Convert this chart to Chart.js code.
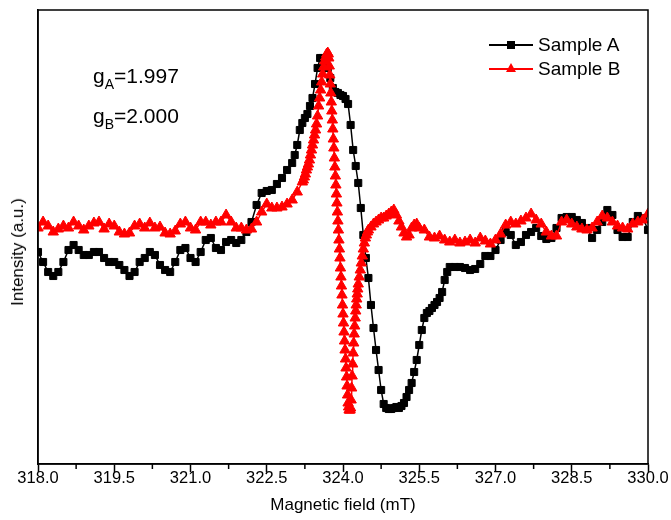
<!DOCTYPE html>
<html>
<head>
<meta charset="utf-8">
<script src="https://cdn.jsdelivr.net/npm/chart.js@4.4.1/dist/chart.umd.min.js"></script>
<style>
  body { margin: 0; background: #fff; }
  #wrap { position: relative; width: 671px; height: 520px; font-family: "Liberation Sans", Arial, sans-serif; color: #000; }
  #wrap canvas { position: absolute; left: 0; top: 0; }
  .note { position: absolute; left: 93px; font-size: 21px; line-height: 21px; white-space: nowrap; }
  .note sub { font-size: 14px; vertical-align: -6px; line-height: 0; }
  .leg { position: absolute; left: 489px; width: 160px; height: 24px; font-size: 19px; line-height: 24px; white-space: nowrap; }
  .leg .ln { position: absolute; left: 0; top: 11px; width: 44px; height: 2px; }
  .leg .sq { position: absolute; left: 18px; top: 8px; width: 8px; height: 8px; background: #000; }
  .leg .tri { position: absolute; left: 17px; top: 6px; width: 0; height: 0; border-left: 5px solid transparent; border-right: 5px solid transparent; border-bottom: 9px solid #f00; }
  .leg .txt { position: absolute; left: 49px; top: 0; }
  #ylab { position: absolute; left: 18px; top: 252px; transform: translate(-50%, -50%) rotate(-90deg); font-size: 17px; white-space: nowrap; }
</style>
</head>
<body>
<div id="wrap">
  <canvas id="chartEpr" width="671" height="520"></canvas>
  <div class="note" style="top:65px">g<sub>A</sub>=1.997</div>
  <div class="note" style="top:105px">g<sub>B</sub>=2.000</div>
  <div class="leg" style="top:33px"><div class="ln" style="background:#000"></div><div class="sq"></div><span class="txt">Sample A</span></div>
  <div class="leg" style="top:57px"><div class="ln" style="background:#f00"></div><div class="tri"></div><span class="txt">Sample B</span></div>
  <div id="ylab">Intensity (a.u.)</div>
</div>
<script>
// EPR spectra (intensity in arbitrary units)

const xTicks = [318.0, 319.5, 321.0, 322.5, 324.0, 325.5, 327.0, 328.5, 330.0];
const xMinorTicks = [318.75, 320.25, 321.75, 323.25, 324.75, 326.25, 327.75, 329.25];

// --- Sample A (squares) ---
const fieldA = [
  318.0, 318.1, 318.2, 318.3, 318.4, 318.5, 318.6, 318.7, 318.8, 318.9,
  319.0, 319.1, 319.2, 319.3, 319.4, 319.5, 319.6, 319.7, 319.8, 319.9,
  320.0, 320.1, 320.2, 320.3, 320.4, 320.5, 320.6, 320.7, 320.8, 320.9,
  321.0, 321.1, 321.2, 321.3, 321.4, 321.5, 321.6, 321.7, 321.8, 321.9,
  322.0, 322.1, 322.2, 322.3, 322.4, 322.5, 322.6, 322.7, 322.8, 322.9,
  323.0, 323.05, 323.1, 323.15, 323.2, 323.25, 323.3, 323.35, 323.4, 323.45,
  323.5, 323.55, 323.6, 323.65, 323.7, 323.75, 323.8, 323.85, 323.9, 323.95,
  324.0, 324.05, 324.1, 324.15, 324.2, 324.25, 324.3, 324.35, 324.4, 324.45,
  324.5, 324.55, 324.6, 324.65, 324.7, 324.75, 324.8, 324.85, 324.9, 324.95,
  325.0, 325.05, 325.1, 325.15, 325.2, 325.25, 325.3, 325.35, 325.4, 325.45,
  325.5, 325.55, 325.6, 325.65, 325.7, 325.75, 325.8, 325.85, 325.9, 325.95,
  326.0, 326.05, 326.1, 326.2, 326.3, 326.4, 326.5, 326.6, 326.7, 326.8, 326.9,
  327.0, 327.1, 327.2, 327.3, 327.4, 327.5, 327.6, 327.7, 327.8, 327.9,
  328.0, 328.1, 328.2, 328.3, 328.4, 328.5, 328.6, 328.7, 328.8, 328.9,
  329.0, 329.1, 329.2, 329.3, 329.4, 329.5, 329.6, 329.7, 329.8, 329.9,
  330.0,
];
const intensityA = [
  212, 202, 192, 188, 192, 202, 214, 219, 214, 209,
  209, 212, 212, 206, 202, 202, 199, 194, 188, 192,
  202, 206, 212, 209, 199, 194, 192, 202, 214, 216,
  206, 202, 212, 224, 226, 216, 214, 222, 224, 221,
  224, 232, 242, 259, 271, 273, 274, 280, 286, 294,
  301, 309, 319, 334, 341, 346, 350, 358, 366, 380,
  396, 406, 406, 402, 396, 386, 376, 372, 371, 369,
  368, 365, 360, 339, 314, 298, 281, 256, 229, 206,
  186, 159, 136, 114, 94, 74, 60, 56, 55, 55,
  56, 57, 56, 58, 61, 67, 74, 81, 92, 104,
  119, 134, 146, 151, 153, 156, 159, 162, 166, 172,
  184, 192, 197, 197, 197, 196, 194, 195, 200, 208, 208,
  214, 224, 232, 229, 219, 222, 229, 232, 236, 228,
  225, 226, 236, 246, 247, 247, 244, 241, 236, 226,
  234, 242, 254, 249, 234, 227, 227, 242, 248, 246,
  234,
];

// --- Sample B (triangles) ---
const fieldB = [
  318.0, 318.1, 318.2, 318.3, 318.4, 318.5, 318.6, 318.7, 318.8, 318.9,
  319.0, 319.1, 319.2, 319.3, 319.4, 319.5, 319.6, 319.7, 319.8, 319.9,
  320.0, 320.1, 320.2, 320.3, 320.4, 320.5, 320.6, 320.7, 320.8, 320.9,
  321.0, 321.1, 321.2, 321.3, 321.4, 321.5, 321.6, 321.7, 321.8, 321.9,
  322.0, 322.1, 322.2, 322.3, 322.4, 322.5, 322.6, 322.7, 322.8, 322.9,
  323.0, 323.1, 323.2,
  323.22, 323.24, 323.26, 323.28, 323.30, 323.32, 323.34, 323.36, 323.38, 323.40,
  323.42, 323.44, 323.46, 323.48, 323.50, 323.52, 323.54, 323.56, 323.58, 323.60,
  323.62, 323.64, 323.66, 323.68, 323.70,
  323.71, 323.72, 323.73, 323.74, 323.75, 323.76, 323.77, 323.78, 323.79, 323.80,
  323.81, 323.82, 323.83, 323.84, 323.85, 323.86, 323.87, 323.88, 323.89, 323.90,
  323.91, 323.92, 323.93, 323.94, 323.95, 323.96, 323.97, 323.98, 323.99, 324.00,
  324.01, 324.02, 324.03, 324.04, 324.05, 324.06, 324.07, 324.08, 324.09, 324.10,
  324.11, 324.12, 324.13, 324.14, 324.15, 324.16, 324.17, 324.18, 324.19, 324.20,
  324.21, 324.22, 324.23, 324.24, 324.25, 324.26, 324.27, 324.28, 324.29, 324.30,
  324.32, 324.34, 324.36, 324.38, 324.40, 324.42, 324.44, 324.46, 324.48, 324.50,
  324.55, 324.60, 324.65, 324.70, 324.75, 324.80, 324.85, 324.90, 324.95, 325.00,
  325.05, 325.10, 325.15, 325.20, 325.25, 325.30, 325.35, 325.40, 325.45, 325.50,
  325.6, 325.7, 325.8, 325.9,
  326.0, 326.1, 326.2, 326.3, 326.4, 326.5, 326.6, 326.7, 326.8, 326.9,
  327.0, 327.1, 327.2, 327.3, 327.4, 327.5, 327.6, 327.7, 327.8, 327.9,
  328.0, 328.1, 328.2, 328.3, 328.4, 328.5, 328.6, 328.7, 328.8, 328.9,
  329.0, 329.1, 329.2, 329.3, 329.4, 329.5, 329.6, 329.7, 329.8, 329.9,
  330.0,
];
const intensityB = [
  236, 242, 238, 232, 235, 238, 236, 242, 238, 234,
  238, 241, 242, 235, 240, 238, 232, 230, 231, 238,
  240, 236, 241, 236, 237, 231, 230, 233, 240, 242,
  236, 234, 242, 242, 239, 242, 242, 249, 242, 236,
  236, 234, 235, 242, 252, 260, 256, 256, 257, 260,
  264, 272, 282,
  284, 287, 290, 294, 297, 300, 304, 309, 314, 319,
  324, 329, 334, 340, 348, 358, 366, 374, 382, 390,
  397, 403, 407, 410, 411,
  410, 406, 398, 389, 380, 371, 362, 353, 344, 335,
  325, 316, 306, 297, 288, 279, 270, 261, 252, 243,
  234, 224, 215, 206, 196, 187, 178, 169, 159, 150,
  141, 132, 123, 114, 105, 96, 87, 78, 69, 61,
  57, 54, 54, 54, 56, 64, 76, 88, 100, 111,
  121, 130, 138, 146, 153, 159, 165, 170, 175, 180,
  187, 194, 201, 208, 215, 221, 226, 229, 232, 234,
  237, 240, 242, 244, 246, 246, 248, 250, 252, 254,
  249, 243, 237, 231, 227, 229, 236, 239, 240, 236,
  234, 227, 226, 228,
  224, 222, 224, 221, 222, 224, 221, 226, 223, 220,
  224, 230, 239, 242, 240, 243, 246, 250, 244, 240,
  232, 228, 228, 242, 244, 240, 237, 235, 234, 236,
  242, 248, 246, 242, 238, 236, 235, 240, 242, 244,
  250,
];

const toXY = (xs, ys) => xs.map((x, i) => ({ x, y: ys[i] }));

// --- Plugins: closed frame + short minor ticks ---
const framePlugin = {
  id: 'frame',
  afterDraw(chart) {
    const { ctx, chartArea: a } = chart;
    ctx.save();
    ctx.strokeStyle = '#000';
    ctx.lineWidth = 1.5;
    ctx.strokeRect(a.left, a.top, a.right - a.left, a.bottom - a.top);
    ctx.restore();
  },
};

const minorTickPlugin = {
  id: 'minorTicks',
  afterDraw(chart) {
    const { ctx } = chart;
    const sx = chart.scales.x;
    ctx.save();
    ctx.strokeStyle = '#000';
    ctx.lineWidth = 1.5;
    xMinorTicks.forEach(v => {
      const px = sx.getPixelForValue(v);
      ctx.beginPath();
      ctx.moveTo(px, sx.top);
      ctx.lineTo(px, sx.top + 5);
      ctx.stroke();
    });
    ctx.restore();
  },
};

const font = { family: '"Liberation Sans", Arial, sans-serif', size: 17 };
const tickFont = { family: '"Liberation Sans", Arial, sans-serif', size: 16.5 };

new Chart(document.getElementById('chartEpr'), {
  type: 'line',
  data: {
    datasets: [
      {
        label: 'Sample A',
        data: toXY(fieldA, intensityA),
        borderColor: '#000',
        backgroundColor: '#000',
        borderWidth: 1.5,
        pointStyle: 'rect',
        pointRadius: 5,
        pointBorderWidth: 1,
        pointBackgroundColor: '#000',
        pointBorderColor: '#000',
        order: 1,
      },
      {
        label: 'Sample B',
        data: toXY(fieldB, intensityB),
        borderColor: '#f00',
        backgroundColor: '#f00',
        borderWidth: 1.5,
        pointStyle: 'triangle',
        pointRadius: 6,
        pointBorderWidth: 1,
        pointBackgroundColor: '#f00',
        pointBorderColor: '#f00',
        order: 0,
      },
    ],
  },
  options: {
    responsive: false,
    animation: false,
    devicePixelRatio: 1,
    layout: { padding: { left: 0, right: 23, top: 10, bottom: 0 } },
    plugins: { legend: { display: false }, tooltip: { enabled: false } },
    elements: { line: { tension: 0 } },
    scales: {
      x: {
        type: 'linear',
        min: 318,
        max: 330,
        afterBuildTicks: s => { s.ticks = xTicks.map(v => ({ value: v })); },
        afterFit: s => { s.height = 56; },
        ticks: {
          color: '#000',
          font: tickFont,
          padding: -3,
          autoSkip: false,
          maxRotation: 0,
          callback: v => Number(v).toFixed(1),
        },
        grid: { display: true, drawOnChartArea: false, drawTicks: true, tickLength: 8, tickColor: '#000', tickWidth: 1.5 },
        border: { display: true, color: '#000', width: 1.5 },
        title: { display: true, text: 'Magnetic field (mT)', color: '#000', font, padding: { top: 4, bottom: 4 } },
      },
      y: {
        type: 'linear',
        min: 0,
        max: 454,
        afterFit: s => { s.width = 38; },
        ticks: { display: false },
        grid: { display: false, drawTicks: false },
        border: { display: true, color: '#000', width: 1.5 },
      },
    },
  },
  plugins: [framePlugin, minorTickPlugin],
});
</script>
</body>
</html>
